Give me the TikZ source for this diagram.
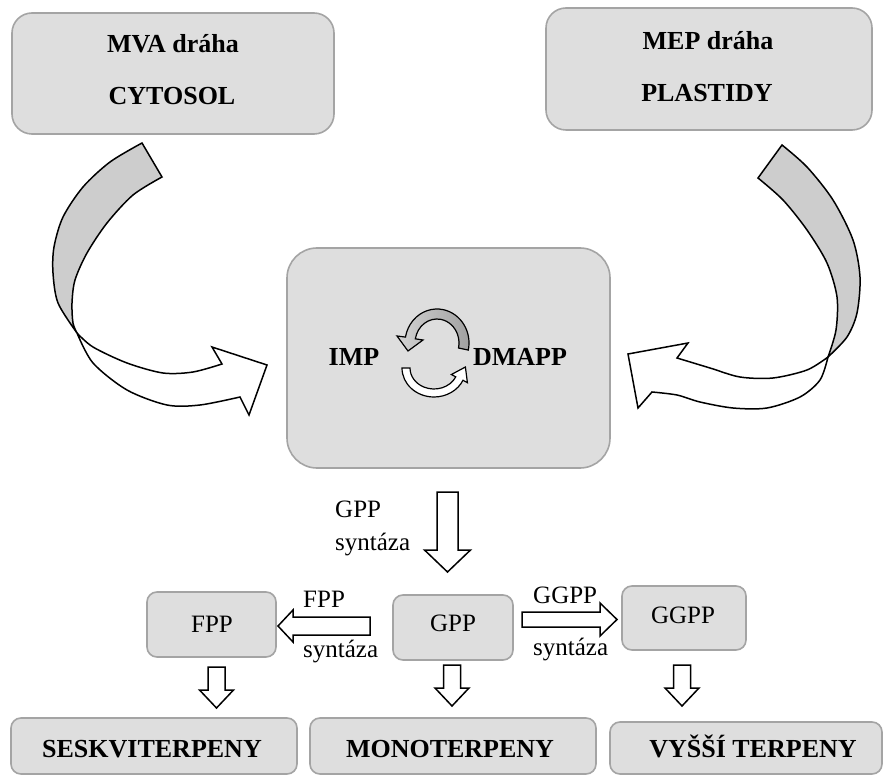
\documentclass[tikz,border=0pt]{standalone}
\usepackage{fontspec}
\usetikzlibrary{calc}
\setmainfont{Liberation Serif}
\definecolor{boxfill}{HTML}{DEDEDE}
\definecolor{boxline}{HTML}{A4A4A4}
\definecolor{bandgray}{HTML}{CDCDCD}
\newcommand{\blkdown}[5]{%
  \filldraw[blk] (#1) ++({-#4},0) -- ++({2*#4},0) -- ++(0,#2) -- ++({#5-#4},0)
    -- ++({-#5},#3) -- ++({-#5},{-#3}) -- ++({#5-#4},0) -- cycle;}
\begin{document}
\begin{tikzpicture}[x=1pt,y=-1pt,
  box/.style={draw=boxline, fill=boxfill, line width=1.6pt, rounded corners=#1, inner sep=0pt},
  box/.default=10pt,
  blk/.style={draw=black, fill=white, line width=1.5pt, line join=miter},
  band/.style={draw=black, line width=1.5pt, line join=miter},
  bigt/.style={font=\fontsize{26}{30}\selectfont\bfseries, inner sep=0pt, anchor=base},
  regt/.style={font=\fontsize{25}{29}\selectfont, inner sep=0pt, anchor=base},
  regl/.style={font=\fontsize{25}{29}\selectfont, inner sep=0pt, anchor=base west}]
\useasboundingbox[fill=white] (0,0) rectangle (886,775);

% top boxes
\node[box=20pt, minimum width=322pt, minimum height=121pt] (mva) at (173,73.5) {};
\node[bigt] (mva1) at (173,53) {MVA dráha};
\node[bigt] (mva2) at (172,105) {CYTOSOL};
\node[box=20pt, minimum width=326pt, minimum height=122pt] (mep) at (709,69) {};
\node[bigt] (mep1) at (708,50) {MEP dráha};
\node[bigt] (mep2) at (707,102) {PLASTIDY};

% centre box
\node[box=30pt, minimum width=323pt, minimum height=220pt] (ctr) at (448.5,358) {};
\node[bigt] (imp) at (354,366) {IMP};
\node[bigt] (dmapp) at (520,366) {DMAPP};

% small cycle arrows
\coordinate (cu) at (437,343);
\coordinate (cl) at (434,368);
\filldraw[band, line width=1.2pt, left color=gray!35, right color=gray!75]
  ($(cu)+(12:32 and 34)$) arc[start angle=12, end angle=-170, x radius=32, y radius=34]
  -- (397,336) -- (408,351) -- (423,340)
  -- ($(cu)+(-170:22 and 24)$) arc[start angle=-170, end angle=12, x radius=22, y radius=24]
  -- cycle;
\filldraw[band, line width=1.2pt, fill=white]
  ($(cl)+(180:32 and 29)$) arc[start angle=180, end angle=25, x radius=32, y radius=29]
  -- (467.4,382.7) -- (465.4,367) -- (451.4,374.5)
  -- ($(cl)+(25:24 and 21)$) arc[start angle=25, end angle=180, x radius=24, y radius=21]
  -- cycle;

% big curved arrow left
\filldraw[band, fill=bandgray]
  plot[smooth] coordinates {(142,143) (110,162) (83,187) (63,217) (54,247) (53,273) (58,303) (77,333)}
  -- plot[smooth] coordinates {(77,333) (73,323) (72,303) (75,280) (87,253) (107,223) (133,195) (162,177)}
  -- cycle;
\filldraw[band, fill=white]
  plot[smooth] coordinates {(77,333) (93,363) (127,390) (167,405) (200,405) (240,397)}
  -- (249,415) -- (267,365) -- (212,347) -- (222,364)
  -- plot[smooth] coordinates {(222,364) (193,372) (163,373) (127,363) (93,347) (77,333)}
  -- cycle;

% big curved arrow right
\filldraw[band, fill=bandgray]
  plot[smooth] coordinates {(782,145) (807,167) (833,200) (853,240) (860,277) (857,313) (847,337) (828,357)}
  -- plot[smooth] coordinates {(828,357) (836,330) (837,297) (827,263) (807,230) (783,200) (758,178)}
  -- cycle;
\filldraw[band, fill=white]
  plot[smooth] coordinates {(828,357) (820,380) (800,397) (767,408) (733,408) (700,402) (677,395) (652,392)}
  -- (638,408) -- (628,354) -- (688,343) -- (677,358)
  -- plot[smooth] coordinates {(677,358) (710,368) (740,377) (773,378) (807,370) (828,357)}
  -- cycle;

% GPP synthase arrow
\coordinate (ga) at (447.5,492);
\blkdown{ga}{58}{22}{10.5}{23}
\node[regl] (gpplab) at (335,517) {GPP};
\node[regl] (gppsyn) at (335,550) {syntáza};

% middle boxes
\node[box=10pt, minimum width=129pt, minimum height=65pt] (fpp) at (211.5,624.5) {};
\node[regt] (fppt) at (212,632) {FPP};
\node[box=10pt, minimum width=120pt, minimum height=65pt] (gpp) at (453,627.5) {};
\node[regt] (gppt) at (453,631) {GPP};
\node[box=10pt, minimum width=124pt, minimum height=64pt] (ggpp) at (684,618) {};
\node[regt] (ggppt) at (683,623) {GGPP};

% FPP synthase arrow (left)
\coordinate (fa) at (370,626);
\filldraw[blk] (fa) ++(0,-9) -- ++(-77,0) -- ++(0,-7) -- ++(-15,16) -- ++(15,16) -- ++(0,-7) -- ++(77,0) -- cycle;
\node[regl] (fpplab) at (303,607) {FPP};
\node[regl] (fppsyn) at (303,657) {syntáza};

% GGPP synthase arrow (right)
\coordinate (gga) at (522,619.5);
\filldraw[blk] (gga) ++(0,-7.5) -- ++(78,0) -- ++(0,-9) -- ++(17,16.5) -- ++(-17,16.5) -- ++(0,-9) -- ++(-78,0) -- cycle;
\node[regl] (ggpplab) at (533,603) {GGPP};
\node[regl] (ggppsyn) at (533,655) {syntáza};

% down arrows
\coordinate (d1) at (216.5,667);
\coordinate (d2) at (452,665);
\coordinate (d3) at (682,665);
\blkdown{d1}{23}{18}{8.5}{17}
\blkdown{d2}{23}{18}{8.5}{17}
\blkdown{d3}{23}{18}{8.5}{17}

% bottom boxes
\node[box=10pt, minimum width=286pt, minimum height=56pt] (ses) at (154,746) {};
\node[bigt] (sest) at (152,757) {SESKVITERPENY};
\node[box=10pt, minimum width=286pt, minimum height=56pt] (mono) at (453,746) {};
\node[bigt] (monot) at (450,757) {MONOTERPENY};
\node[box=10pt, minimum width=272pt, minimum height=52pt] (vys) at (746,748) {};
\node[bigt] (vyst) at (753,757) {VYŠŠÍ TERPENY};
\end{tikzpicture}
\end{document}
